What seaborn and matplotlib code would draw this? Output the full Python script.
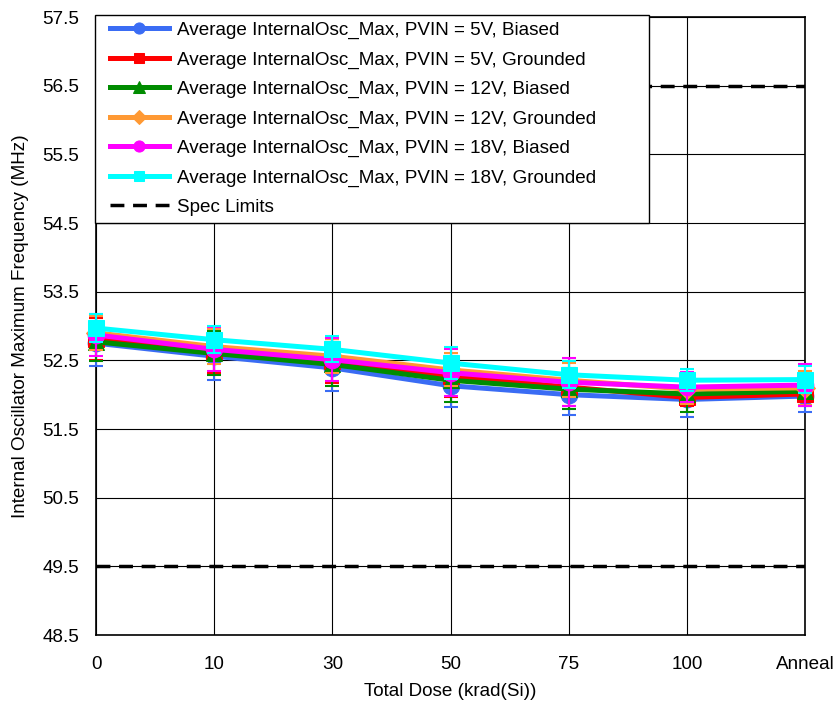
import matplotlib
matplotlib.use("Agg")
import matplotlib.pyplot as plt
import seaborn as sns
import numpy as np
import pandas as pd
from matplotlib.lines import Line2D
from matplotlib.legend_handler import HandlerLine2D

categories = ["0", "10", "30", "50", "75", "100", "Anneal"]
labels = [
    "Average InternalOsc_Max, PVIN = 5V, Biased",
    "Average InternalOsc_Max, PVIN = 5V, Grounded",
    "Average InternalOsc_Max, PVIN = 12V, Biased",
    "Average InternalOsc_Max, PVIN = 12V, Grounded",
    "Average InternalOsc_Max, PVIN = 18V, Biased",
    "Average InternalOsc_Max, PVIN = 18V, Grounded",
]
v5_biased = [52.75, 52.56, 52.39, 52.13, 52.00, 51.93, 51.98]
v5_grounded = [52.81, 52.63, 52.49, 52.27, 52.11, 51.96, 52.01]
v12_biased = [52.77, 52.60, 52.44, 52.21, 52.08, 52.01, 52.05]
v12_grounded = [52.90, 52.70, 52.56, 52.36, 52.21, 52.08, 52.10]
v18_biased = [52.87, 52.66, 52.51, 52.32, 52.18, 52.11, 52.14]
v18_grounded = [52.97, 52.80, 52.66, 52.46, 52.29, 52.21, 52.22]
err5b = [0.33, 0.35, 0.33, 0.31, 0.30, 0.26, 0.23]
err5g = [0.30, 0.32, 0.32, 0.30, 0.28, 0.13, 0.16]
err12b = [0.28, 0.32, 0.32, 0.31, 0.29, 0.26, 0.22]
err12g = [0.25, 0.25, 0.25, 0.24, 0.25, 0.22, 0.25]
err18b = [0.30, 0.32, 0.31, 0.34, 0.35, 0.22, 0.31]
err18g = [0.20, 0.20, 0.19, 0.23, 0.20, 0.16, 0.20]
spec_limits = [49.5, 56.5]

series = [v5_biased, v5_grounded, v12_biased, v12_grounded, v18_biased, v18_grounded]
errors = [err5b, err5g, err12b, err12g, err18b, err18g]
colors = ["#3a6cf4", "#ff0000", "#008c00", "#ff9933", "#ff00ff", "#00ffff"]
markers = ["o", "s", "^", "D", "o", "s"]
msizes = [12, 11, 12, 10, 12, 11]
leg_msizes = [8, 7.5, 8, 7, 8, 7.5, 0]

plt.rcParams['font.family'] = ['Liberation Sans', 'DejaVu Sans']
FS = 13.6
fig = plt.figure(figsize=(8.38, 7.01), dpi=100)
ax = fig.add_axes([96/838, 1-635/701, (805-96)/838, (635-17)/701])

x = np.arange(len(categories))
for i, (vals, errs) in enumerate(zip(series, errors)):
    df = pd.DataFrame({"x": x, "y": vals})
    eb = ax.errorbar(x, vals, yerr=errs, fmt="none", ecolor=colors[i], elinewidth=1.5,
                     capsize=5, capthick=1.5, zorder=3 + i * 0.1)
    for art in eb.lines[1] + eb.lines[2]:
        art.set_clip_on(False)
    sns.lineplot(data=df, x="x", y="y", ax=ax, color=colors[i], marker=markers[i],
                 markersize=msizes[i], markeredgecolor=colors[i], linewidth=3.6,
                 label=labels[i], zorder=3.05 + i * 0.1, clip_on=False)

for j, s in enumerate(spec_limits):
    ax.axhline(s, color="black", linestyle=(0, (4, 2.5)), linewidth=2.5, zorder=2.5,
               label="Spec Limits" if j == 0 else None)

ax.set_xlim(0, len(categories) - 1)
ax.set_ylim(48.5, 57.5)
ax.set_yticks(np.arange(48.5, 57.6, 1.0))
ax.set_yticklabels([f"{v:.1f}" for v in np.arange(48.5, 57.6, 1.0)])
ax.set_xticks(x)
ax.set_xticklabels(categories)
ax.tick_params(axis="y", length=0, labelsize=FS, pad=12)
ax.tick_params(axis="x", length=0, labelsize=FS, pad=15)
ax.grid(True, color="black", linewidth=0.8, zorder=1)
ax.set_axisbelow(True)
for sp in ax.spines.values():
    sp.set_color("black")
    sp.set_linewidth(1.2)
ax.set_xlabel("Total Dose (krad(Si))", fontsize=FS, labelpad=7)
ax.set_ylabel("Internal Oscillator Maximum Frequency (MHz)", fontsize=FS, labelpad=10)

leg = ax.legend(loc="upper left", fontsize=FS, frameon=True, fancybox=False,
                edgecolor="black", framealpha=1, borderpad=0.35, labelspacing=0.64,
                handlelength=3.55, borderaxespad=0.0, handletextpad=0.43,
                bbox_to_anchor=(-0.0015, 1.003, 0.781, 0.0), mode="expand",
                handler_map={Line2D: HandlerLine2D(xpad=0.45)})
leg.get_frame().set_linewidth(1.0)
leg.set_zorder(10)
for h, ms in zip(leg.legend_handles, leg_msizes):
    if ms > 0:
        h.set_markersize(ms)

fig.savefig("out.png", dpi=100)
